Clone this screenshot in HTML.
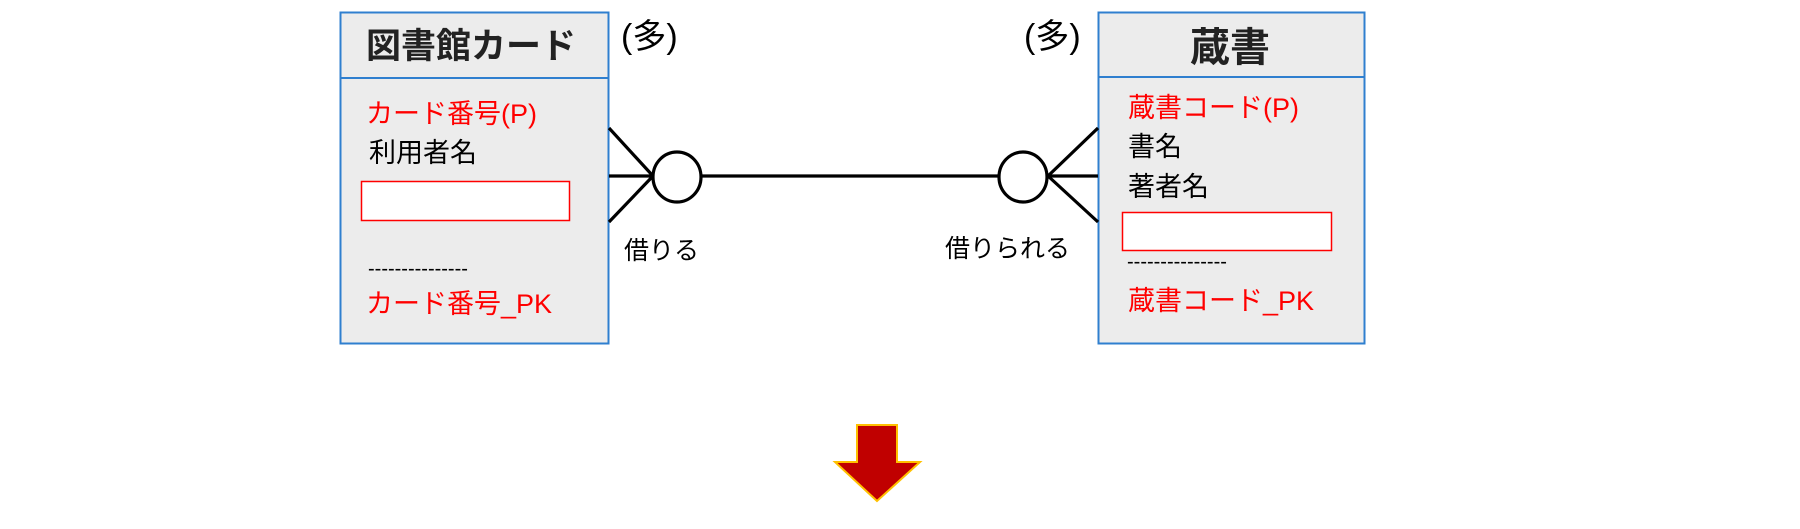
<!DOCTYPE html>
<html><head><meta charset="utf-8"><style>
body{margin:0;width:1800px;height:529px;background:#fff;position:relative;overflow:hidden;font-family:"Liberation Sans","Noto Sans CJK JP",sans-serif}
.t{position:absolute;white-space:nowrap;line-height:1}
.r{color:#ff0000}
</style></head><body>
<svg width="1800" height="529" style="position:absolute;left:0;top:0">
<rect x="340.5" y="12.5" width="268" height="331" fill="#ececec" stroke="#2f7fcf" stroke-width="2"/>
<line x1="340" y1="78" x2="609" y2="78" stroke="#2f7fcf" stroke-width="2"/>
<rect x="1098.5" y="12.5" width="266" height="331" fill="#ececec" stroke="#2f7fcf" stroke-width="2"/>
<line x1="1098" y1="77" x2="1365" y2="77" stroke="#2f7fcf" stroke-width="2"/>
<rect x="361.5" y="181.5" width="208" height="39" fill="#fff" stroke="#ff0000" stroke-width="1.5"/>
<rect x="1122.5" y="212.5" width="209" height="38" fill="#fff" stroke="#ff0000" stroke-width="1.5"/>
<g stroke="#000" stroke-width="3.2" fill="none">
<line x1="609" y1="176" x2="1098" y2="176"/>
<line x1="609" y1="128" x2="653" y2="176"/>
<line x1="609" y1="222" x2="653" y2="176"/>
<line x1="1098" y1="128" x2="1048" y2="176"/>
<line x1="1098" y1="222" x2="1048" y2="176"/>
<ellipse cx="677" cy="177" rx="24" ry="25" fill="#fff"/>
<ellipse cx="1023" cy="177" rx="24" ry="25" fill="#fff"/>
</g>
<polygon points="857,425 897,425 897,462 920,462 877,501 835,462 857,462" fill="#c00000" stroke="#ffc000" stroke-width="2"/>
</svg>
<div class="t" style="left:366px;top:29px;font-size:35px;font-weight:bold;color:#222">図書館カード</div>
<div class="t" style="left:1190px;top:28px;font-size:40px;font-weight:bold;color:#222">蔵書</div>
<div class="t" style="left:621px;top:20px;font-size:34px">(多)</div>
<div class="t" style="left:1024px;top:20px;font-size:34px">(多)</div>
<div class="t r" style="left:366px;top:101px;font-size:27px">カード番号(P)</div>
<div class="t" style="left:369px;top:140px;font-size:27px">利用者名</div>
<div class="t" style="left:368px;top:259px;font-size:20px">---------------</div>
<div class="t r" style="left:366px;top:291px;font-size:27px">カード番号_PK</div>
<div class="t r" style="left:1128px;top:95px;font-size:27px">蔵書コード(P)</div>
<div class="t" style="left:1128px;top:134px;font-size:27px">書名</div>
<div class="t" style="left:1128px;top:174px;font-size:27px">著者名</div>
<div class="t" style="left:1127px;top:252px;font-size:20px">---------------</div>
<div class="t r" style="left:1128px;top:288px;font-size:27px">蔵書コード_PK</div>
<div class="t" style="left:624px;top:239px;font-size:25px">借りる</div>
<div class="t" style="left:945px;top:237px;font-size:25px">借りられる</div>
</body></html>
